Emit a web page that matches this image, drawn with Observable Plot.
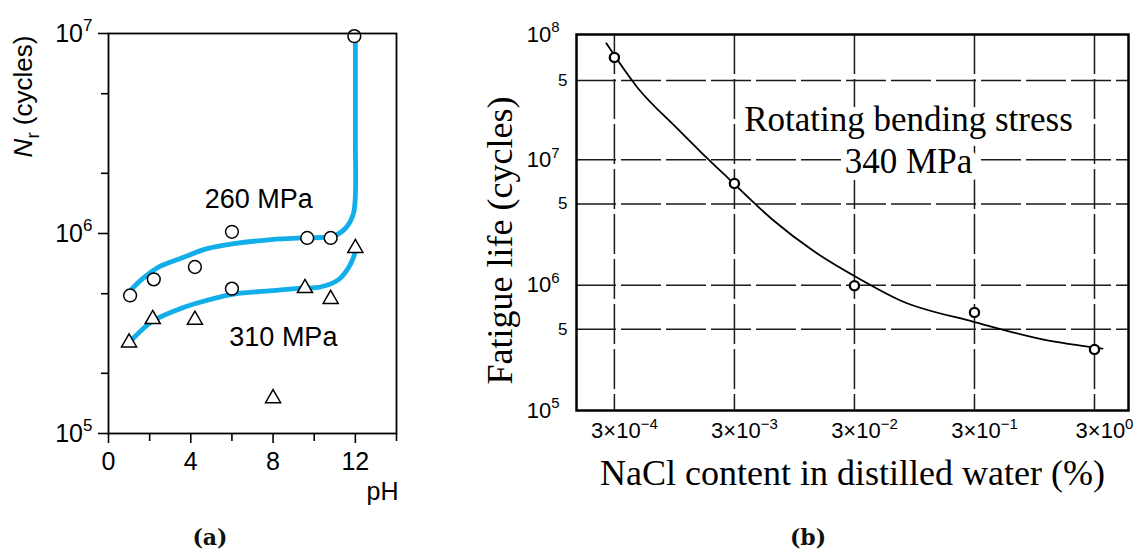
<!DOCTYPE html>
<html>
<head>
<meta charset="utf-8">
<script src="https://cdn.jsdelivr.net/npm/d3@7"></script>
<script src="https://cdn.jsdelivr.net/npm/@observablehq/plot@0.6"></script>
<style>
  html, body { margin: 0; padding: 0; background: white; }
  #wrap { position: relative; width: 1134px; height: 549px; overflow: hidden; background: white; }
  #wrap svg { position: absolute; top: 0; }
  .cap { position: absolute; width: 100px; text-align: center; font-family: "DejaVu Serif", "Liberation Serif", serif; font-weight: bold; font-size: 22px; line-height: 24px; top: 525px; color: #111; }
</style>
</head>
<body>
<div id="wrap"></div>
<script>
// ---------- Panel (a): fatigue life vs pH ----------
const phCircles = [1.05, 2.2, 4.2, 6.0, 6.0, 9.66, 10.8, 11.95];
const nCircles  = [4.9e5, 5.9e5, 6.8e5, 1.02e6, 5.3e5, 9.5e5, 9.5e5, 9.7e6];
const phTriangles = [1.0, 2.15, 4.2, 8.0, 9.55, 10.8, 12.0];
const nTriangles  = [2.85e5, 3.73e5, 3.7e5, 1.5e5, 5.33e5, 4.7e5, 8.45e5];

const phCurve260 = [1.15, 1.7, 2.5, 3.5, 4.8, 6.1, 7.8, 9.4, 10.3, 11.0, 11.55, 11.9, 12.0, 12.0, 12.0];
const nCurve260  = [5.3e5, 6.0e5, 6.85e5, 7.5e5, 8.4e5, 8.9e5, 9.3e5, 9.5e5, 9.55e5, 9.75e5, 1.07e6, 1.25e6, 1.55e6, 3.0e6, 8.9e6];
const phCurve310 = [1.17, 2.15, 3.2, 4.15, 6.1, 7.8, 9.4, 10.3, 11.2, 11.65, 11.9, 12.0];
const nCurve310  = [2.97e5, 3.65e5, 4.1e5, 4.44e5, 4.98e5, 5.16e5, 5.33e5, 5.4e5, 5.9e5, 6.7e5, 7.55e5, 8.2e5];

const stressLabelsA = ["260 MPa", "310 MPa"];
const stressLabelPh = [7.3, 8.5];
const stressLabelN  = [1.48e6, 3.02e5];

const xTicksA = [0, 4, 8, 12];
const xMinorA = [2, 6, 10, 14];
const yTicksA = [1e5, 1e6, 1e7];
const yMinorA = [2e5, 5e5, 2e6, 5e6];

// ---------- Panel (b): fatigue life vs NaCl content ----------
const naclContent = [3e-4, 3e-3, 3e-2, 3e-1, 3e0];
const fatigueLife = [6.55e7, 6.47e6, 9.9e5, 6.05e5, 3.07e5];
const naclCurve = [2.57e-4, 4.66e-4, 1.0e-3, 1.56e-3, 2.63e-3, 6.35e-3, 1.37e-2, 3.37e-2, 7.25e-2, 0.3, 1.13, 3.5];
const lifeCurve = [8.5e7, 3.78e7, 1.78e7, 1.165e7, 7.22e6, 3.28e6, 1.87e6, 1.11e6, 7.54e5, 5.08e5, 3.68e5, 3.12e5];
const naclTickLabels = ["3×10^{−4}", "3×10^{−3}", "3×10^{−2}", "3×10^{−1}", "3×10^{0}"];
const xDomainB = [1.45e-4, 5.76];
const yMajorB = [1e5, 1e6, 1e7, 1e8];
const yMinorB = [4.45e5, 4.45e6, 4.3e7];
const yMinorLabelB = "5";
const annotationB = "Rotating bending stress\n340 MPa";
const annotationX = 0.0846, annotationY = 1.49e7;

const BLUE = "#12aee9";
const SANS = "'Liberation Sans', Arial, Helvetica, sans-serif";
const NARROW = "'Liberation Sans Narrow', 'Liberation Sans', Arial, sans-serif";
const SERIF = "'Liberation Serif', 'Times New Roman', serif";

const zip = (xs, ys, kx, ky) => xs.map((v, i) => ({[kx]: v, [ky]: ys[i]}));
const circles = zip(phCircles, nCircles, "ph", "n");
const triangles = zip(phTriangles, nTriangles, "ph", "n");
const curve260 = zip(phCurve260, nCurve260, "ph", "n");
const curve310 = zip(phCurve310, nCurve310, "ph", "n");
const labelsA = stressLabelsA.map((t, i) => ({t, ph: stressLabelPh[i], n: stressLabelN[i]}));
const ptsB = zip(naclContent, fatigueLife, "c", "n");
const curveB = zip(naclCurve, lifeCurve, "c", "n");
const naclLabelMap = new Map(naclContent.map((d, i) => [d, naclTickLabels[i]]));
const powerLabel = d => `10^{${Math.round(Math.log10(d))}}`;

const svgA = Plot.plot({
  width: 460, height: 549,
  marginLeft: 108, marginRight: 64, marginTop: 33, marginBottom: 116,
  x: {domain: [0, 14], axis: null, label: null},
  y: {type: "log", domain: [1e5, 1e7], axis: null, label: null},
  style: {fontFamily: SANS, fontSize: "25px", color: "black", background: "transparent", overflow: "visible"},
  marks: [
    Plot.line(curve260, {x: "ph", y: "n", curve: "catmull-rom", stroke: BLUE, strokeWidth: 4.8, strokeLinecap: "round"}),
    Plot.line(curve310, {x: "ph", y: "n", curve: "catmull-rom", stroke: BLUE, strokeWidth: 4.8, strokeLinecap: "round"}),
    Plot.dot(circles, {x: "ph", y: "n", r: 6.4, stroke: "black", strokeWidth: 1.5, fill: "white"}),
    Plot.dot(triangles, {x: "ph", y: "n", symbol: "triangle", r: 5.6, stroke: "black", strokeWidth: 1.5, fill: "white"}),
    Plot.frame({stroke: "black", strokeWidth: 1.8}),
    Plot.axisX(xTicksA, {tickSize: 10, tickPadding: 9, fontSize: 25, strokeWidth: 1.6, label: null}),
    Plot.axisX(xMinorA, {tickSize: 8, tickFormat: () => "", strokeWidth: 1.6, label: null}),
    Plot.axisY(yTicksA, {tickSize: 10, tickPadding: 6, tickFormat: powerLabel, fontSize: 25, strokeWidth: 1.6, label: null}),
    Plot.axisY(yMinorA, {tickSize: 7, tickFormat: () => "", strokeWidth: 1.6, label: null}),
    Plot.text(labelsA, {x: "ph", y: "n", text: "t", fontSize: 27, fill: "black"}),
    Plot.text(["pH"], {frameAnchor: "bottom-right", textAnchor: "end", lineAnchor: "middle", dx: 2, dy: 58, fontSize: 25}),
    Plot.text(["*N*_{r} (cycles)"], {frameAnchor: "left", textAnchor: "middle", lineAnchor: "middle", rotate: -90, dx: -85, dy: -137, fontSize: 26})
  ]
});

const svgB = Plot.plot({
  width: 674, height: 549,
  marginLeft: 116, marginRight: 6, marginTop: 34, marginBottom: 139,
  x: {type: "log", domain: xDomainB, axis: null, label: null},
  y: {type: "log", domain: [1e5, 1e8], axis: null, label: null},
  style: {fontFamily: NARROW, fontSize: "18px", color: "black", background: "transparent", overflow: "visible"},
  marks: [
    Plot.ruleX(naclContent, {stroke: "#1a1a1a", strokeWidth: 1.5, strokeDasharray: "40,5"}),
    Plot.ruleY(yMinorB.concat([1e6, 1e7]), {stroke: "#1a1a1a", strokeWidth: 1.5, strokeDasharray: "40,5"}),
    Plot.text([annotationB], {x: () => annotationX, y: () => annotationY, text: d => d, lineHeight: 1.2, fontSize: 35, fontFamily: SERIF, fill: "black", stroke: "white", strokeWidth: 14}),
    Plot.line(curveB, {x: "c", y: "n", curve: "monotone-x", stroke: "black", strokeWidth: 1.8}),
    Plot.dot(ptsB, {x: "c", y: "n", r: 4.6, stroke: "black", strokeWidth: 2.3, fill: "white"}),
    Plot.frame({stroke: "black", strokeWidth: 2.5}),
    Plot.text(yMajorB, {y: d => d, text: powerLabel, frameAnchor: "left", textAnchor: "end", lineAnchor: "middle", dx: -17, fontSize: 22}),
    Plot.text(yMinorB, {y: d => d, text: () => yMinorLabelB, frameAnchor: "left", textAnchor: "end", lineAnchor: "middle", dx: -9, fontSize: 17}),
    Plot.text(naclContent, {x: d => d, text: d => naclLabelMap.get(d), frameAnchor: "bottom", textAnchor: "middle", lineAnchor: "top", dy: 12, dx: 10, fontSize: 22}),
    Plot.text(["Fatigue life (cycles)"], {frameAnchor: "left", textAnchor: "middle", lineAnchor: "middle", rotate: -90, dx: -76, dy: 18, fontSize: 36, fontFamily: SERIF}),
    Plot.text(["NaCl content in distilled water (%)"], {frameAnchor: "bottom", textAnchor: "middle", lineAnchor: "middle", dy: 63, fontSize: 36, fontFamily: SERIF})
  ]
});

const wrap = document.getElementById("wrap");
svgA.style.left = "0px";
svgB.style.left = "460px";
wrap.appendChild(svgA);
wrap.appendChild(svgB);

function addCaption(text, cx) {
  const d = document.createElement("div");
  d.className = "cap";
  d.textContent = text;
  d.style.left = (cx - 50) + "px";
  wrap.appendChild(d);
}
addCaption("(a)", 210);
addCaption("(b)", 808);

// rich text: ^{sup}, _{sub}, *italic*
function richify(svg) {
  svg.querySelectorAll("text").forEach(t => {
    if (t.children.length) return;
    const s = t.textContent;
    if (!/\^\{|_\{|\*/.test(s)) return;
    const F = parseFloat(getComputedStyle(t).fontSize) || 16;
    const parts = s.split(/(\^\{[^}]*\}|_\{[^}]*\}|\*[^*]+\*)/).filter(p => p !== "");
    t.textContent = "";
    let shift = 0;
    for (const p of parts) {
      const ts = document.createElementNS("http://www.w3.org/2000/svg", "tspan");
      let target = 0, txt = p;
      if (p.startsWith("^{")) { target = -0.42 * F; txt = p.slice(2, -1); ts.setAttribute("font-size", (0.68 * F) + "px"); }
      else if (p.startsWith("_{")) { target = 0.26 * F; txt = p.slice(2, -1); ts.setAttribute("font-size", (0.72 * F) + "px"); }
      else if (p.startsWith("*")) { txt = p.slice(1, -1); ts.setAttribute("font-style", "italic"); }
      const dy = target - shift;
      if (dy) ts.setAttribute("dy", dy.toFixed(2));
      shift = target;
      ts.textContent = txt;
      t.appendChild(ts);
    }
  });
}
richify(svgA);
richify(svgB);
</script>
</body>
</html>
